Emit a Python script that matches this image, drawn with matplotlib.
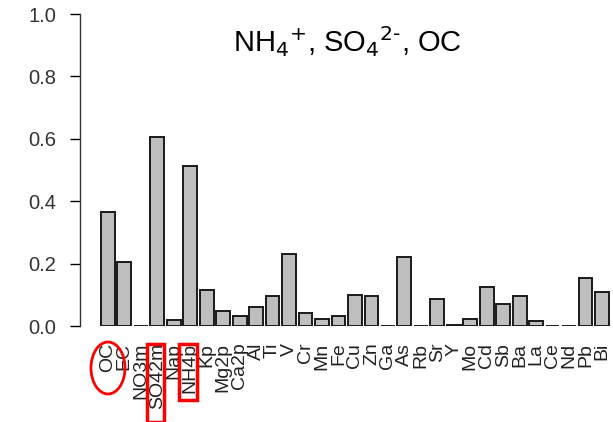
import matplotlib.pyplot as plt
from matplotlib.patches import Ellipse, Rectangle

# species and contribution values
species = ['OC', 'EC', 'NO3m', 'SO42m', 'Nap', 'NH4p', 'Kp', 'Mg2p', 'Ca2p', 'Al',
           'Ti', 'V', 'Cr', 'Mn', 'Fe', 'Cu', 'Zn', 'Ga', 'As', 'Rb',
           'Sr', 'Y', 'Mo', 'Cd', 'Sb', 'Ba', 'La', 'Ce', 'Nd', 'Pb', 'Bi']
values = [0.366, 0.206, 0.0, 0.605, 0.018, 0.513, 0.114, 0.047, 0.033, 0.062,
          0.096, 0.231, 0.042, 0.022, 0.033, 0.099, 0.096, 0.0, 0.222, 0.0,
          0.085, 0.004, 0.022, 0.126, 0.071, 0.097, 0.017, 0.0, 0.0, 0.155, 0.110]
yticks = [0.0, 0.2, 0.4, 0.6, 0.8, 1.0]

plt.rcParams['font.family'] = ['Liberation Sans', 'DejaVu Sans']

fig = plt.figure(figsize=(6.13, 4.22), dpi=100)
ax = fig.add_axes([80 / 613, 96 / 422, 533 / 613, 312 / 422])

# R-style barplot positions: width 1, space 0.2
xpos = [0.7 + 1.2 * i for i in range(len(species))]
ax.bar(xpos, values, width=1.0, color='#bebebe', edgecolor='#1a1a1a', linewidth=1.4)

ax.set_xlim(-1.33, 37.5)
ax.set_ylim(0, 1.0)
ax.set_yticks(yticks)
ax.set_yticklabels(['%.1f' % t for t in yticks], fontsize=14.5, color='#333333')
ax.tick_params(axis='y', length=7, width=1, direction='out', pad=10)
ax.set_xticks(xpos)
ax.set_xticklabels(species, rotation=90, fontsize=14, va='top', color='#222222')
ax.tick_params(axis='x', length=0, pad=12)

for s in ['top', 'right', 'bottom']:
    ax.spines[s].set_visible(False)
ax.spines['left'].set_linewidth(1)
ax.spines['left'].set_color('#333333')

fig.text(347 / 613, 1 - 42 / 422, r'NH$_4$$^{+}$, SO$_4$$^{2\text{-}}$, OC',
         ha='center', va='center', fontsize=21)

# red highlight marks around the labels
fig.patches.append(Ellipse((108 / 613, 1 - 368 / 422), 34 / 613, 52 / 422,
                           transform=fig.transFigure, fill=False, edgecolor='red', linewidth=2))
fig.patches.append(Rectangle((147 / 613, 0), 17 / 613, (422 - 344) / 422,
                             transform=fig.transFigure, fill=False, edgecolor='red', linewidth=2.5))
fig.patches.append(Rectangle((179 / 613, 1 - 400 / 422), 18 / 613, 56 / 422,
                             transform=fig.transFigure, fill=False, edgecolor='red', linewidth=2.5))

fig.savefig('out.png', dpi=100)
